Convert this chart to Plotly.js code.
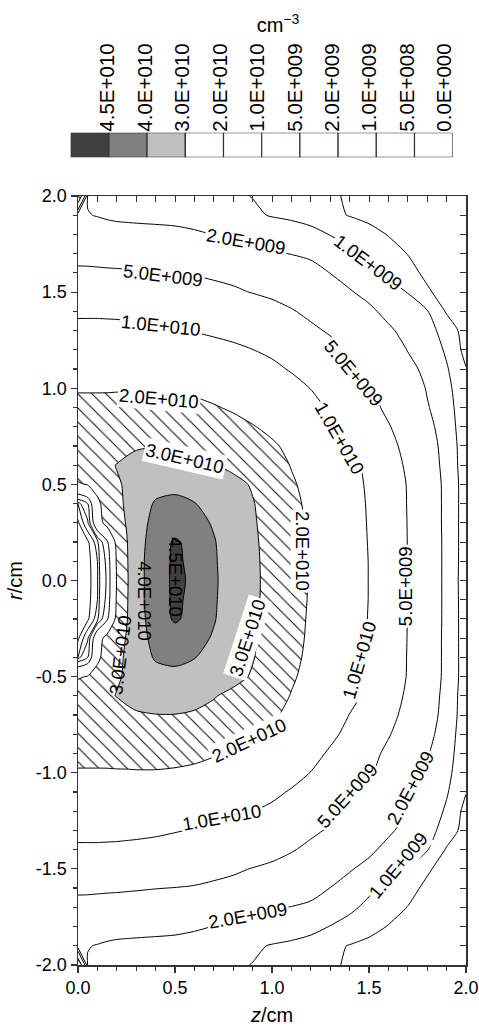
<!DOCTYPE html>
<html>
<head>
<meta charset="utf-8">
<script src="https://cdn.plot.ly/plotly-3.0.1.min.js"></script>
<style>
html,body{margin:0;padding:0;background:#fff;}
#chart{width:479px;height:1026px;}
</style>
</head>
<body>
<div id="chart"></div>
<script>
// ---------------- data ----------------
// axial positions z (cm) of the grid columns
const zGrid = [0, 0.05, 0.1, 0.15, 0.2, 0.25, 0.3, 0.4, 0.5, 0.6, 0.7, 0.8, 0.9, 1.0, 1.1, 1.2, 1.3, 1.4, 1.5, 1.6, 1.7, 1.8, 1.9, 2.0];
// radial positions r (cm) of the rows, upper half (field is mirror-symmetric about r = 0)
const rUpper = [0, 0.1, 0.2, 0.3, 0.4, 0.5, 0.6, 0.7, 0.8, 0.9, 1.0, 1.1, 1.2, 1.3, 1.4, 1.5, 1.6, 1.7, 1.8, 1.9, 2.0];
// density, in units of 1e9 cm^-3, one array per r row
const n_r00 = [0.2, 0.3, 0.9, 5.5, 20.5, 28.5, 37.5, 43.5, 45.6, 44.5, 41, 36.5, 32, 27, 22.5, 19.5, 15.5, 12.3, 9.9, 7.5, 4.95, 3.2, 1.6, 0.6];
const n_r01 = [0.2, 0.3, 1.0, 6, 21, 28.8, 37.5, 43.5, 45.5, 44.3, 40.8, 36.3, 31.8, 27, 22.5, 19.4, 15.4, 12.2, 9.9, 7.5, 4.95, 3.2, 1.6, 0.62];
const n_r02 = [0.25, 0.4, 1.3, 9, 22.5, 29.3, 37, 43.3, 45.4, 44, 40.5, 36, 31.5, 26.8, 22.3, 19.2, 15.3, 12.1, 9.8, 7.4, 4.93, 3.2, 1.6, 0.63];
const n_r03 = [0.4, 1.5, 16, 23, 26, 30.5, 37, 42, 43.5, 42.5, 39.3, 35.5, 31, 26.5, 22, 19, 15.2, 12, 9.7, 7.3, 4.9, 3.1, 1.6, 0.63];
const n_r04 = [1.0, 5, 18, 24, 28, 31, 34.5, 41, 41.5, 40.2, 37.5, 34.5, 30.5, 26, 21.7, 18.5, 15, 11.8, 9.6, 7.2, 4.85, 3.1, 1.6, 0.63];
const n_r05 = [19, 20.5, 23.5, 26, 29.5, 30.5, 33, 36.5, 38.3, 38, 35.5, 32.5, 29.2, 25.3, 20.8, 18, 14.7, 11.6, 9.4, 7.1, 4.8, 3.05, 1.6, 0.63];
const n_r06 = [26, 27, 28, 29, 30.2, 31.3, 32.3, 33.5, 34, 33, 30.5, 28, 25.5, 22.8, 19.7, 16.8, 13.8, 11.2, 9.0, 6.8, 4.4, 2.9, 1.5, 0.62];
const n_r07 = [25, 25.5, 26, 26.5, 27.5, 28.5, 29.3, 29.8, 29.8, 29, 27.8, 26, 23.8, 21, 18.3, 15.7, 12.8, 9.9, 7.9, 6.0, 4.0, 2.7, 1.45, 0.62];
const n_r08 = [24, 24, 24.3, 24.6, 25, 25.5, 26, 26.5, 26.5, 25.8, 24.5, 22.5, 20.4, 18.3, 16, 13.7, 11, 8.8, 7, 5.2, 3.6, 2.4, 1.35, 0.6];
const n_r09 = [22.5, 22.5, 22.5, 22.6, 22.8, 23, 23.2, 23.2, 22.8, 22, 20.6, 19, 17.3, 15.5, 13.6, 11.5, 9.4, 7.5, 5.9, 4.4, 3.2, 2.1, 1.25, 0.6];
const n_r10 = [19.2, 19.2, 19.2, 19.2, 19.3, 19.3, 19.4, 19.4, 19, 18.3, 17.3, 16, 14.7, 13.2, 11.6, 9.9, 8.2, 6.7, 5.3, 4.0, 2.9, 1.9, 1.15, 0.6];
const n_r11 = [15.5, 15.5, 15.5, 15.5, 15.5, 15.5, 15.5, 15.4, 15, 14.5, 13.8, 13, 12.1, 11, 9.6, 8.2, 7, 5.7, 4.5, 3.4, 2.4, 1.65, 1.05, 0.52];
const n_r12 = [13.2, 13.2, 13.2, 13.2, 13.2, 13.15, 13.1, 13, 12.7, 12.2, 11.6, 10.9, 10.05, 9.1, 8.0, 6.9, 5.8, 4.8, 3.8, 2.8, 1.95, 1.35, 0.92, 0.35];
const n_r13 = [11.2, 11.2, 11.2, 11.15, 11.1, 11, 10.9, 10.6, 10.2, 9.8, 9.2, 8.6, 7.9, 7.2, 6.4, 5.5, 4.7, 3.9, 3.0, 2.2, 1.6, 1.2, 0.78, 0.3];
const n_r14 = [9.3, 9.3, 9.3, 9.25, 9.2, 9.1, 9.0, 8.8, 8.5, 8.1, 7.7, 7.2, 6.6, 6.0, 5.2, 4.4, 3.6, 2.9, 2.25, 1.65, 1.25, 1.03, 0.45, 0.28];
const n_r15 = [7.3, 7.3, 7.3, 7.25, 7.2, 7.1, 7.0, 6.8, 6.5, 6.2, 5.8, 5.4, 4.9, 4.4, 3.9, 3.3, 2.7, 2.1, 1.65, 1.3, 0.98, 0.55, 0.35, 0.25];
const n_r16 = [5.4, 5.4, 5.35, 5.32, 5.3, 5.25, 5.2, 5.06, 4.95, 4.8, 4.5, 4.2, 3.9, 3.5, 3.1, 2.6, 1.98, 1.55, 1.1, 0.85, 0.62, 0.42, 0.3, 0.22];
const n_r17 = [4.3, 4.25, 4.2, 4.1, 4.0, 3.9, 3.8, 3.6, 3.4, 3.2, 2.95, 2.7, 2.45, 2.2, 1.95, 1.7, 1.4, 1.1, 0.88, 0.68, 0.49, 0.38, 0.28, 0.2];
const n_r18 = [3.0, 2.8, 2.6, 2.5, 2.45, 2.42, 2.4, 2.35, 2.3, 2.15, 1.98, 1.85, 1.7, 1.55, 1.4, 1.2, 0.98, 0.83, 0.65, 0.48, 0.38, 0.3, 0.24, 0.18];
const n_r19 = [2.1, 2.05, 1.95, 1.85, 1.78, 1.75, 1.72, 1.68, 1.62, 1.55, 1.48, 1.35, 1.12, 0.95, 0.85, 0.75, 0.6, 0.48, 0.38, 0.3, 0.25, 0.2, 0.17, 0.14];
const n_r20 = [30, 1.9, 1.85, 1.8, 1.75, 1.7, 1.65, 1.55, 1.45, 1.35, 1.25, 1.1, 0.98, 0.9, 0.8, 0.7, 0.56, 0.45, 0.36, 0.3, 0.25, 0.2, 0.16, 0.13];
const densityUnit = 1e9; // cm^-3

// contour levels drawn as lines (cm^-3)
const lineLevels = [5e8, 1e9, 2e9, 5e9, 1e10, 2e10, 3e10, 4e10, 4.5e10];

// legend (top key)
const legendLabels = ['4.5E+010', '4.0E+010', '3.0E+010', '2.0E+010', '1.0E+010', '5.0E+009', '2.0E+009', '1.0E+009', '5.0E+008', '0.0E+000'];
const legendFill = ['#404040', '#808080', '#c0c0c0', '#ffffff', '#ffffff', '#ffffff', '#ffffff', '#ffffff', '#ffffff', '#ffffff'];
const legendHatch = ['', '', '', '\\', '', '', '', '', '', ''];

// axis ticks
const zTickVals = [0, 0.5, 1.0, 1.5, 2.0];
const zTickText = ['0.0', '0.5', '1.0', '1.5', '2.0'];
const rTickVals = [-2, -1.5, -1, -0.5, 0, 0.5, 1, 1.5, 2];
const rTickText = ['-2.0', '-1.5', '-1.0', '-0.5', '0.0', '0.5', '1.0', '1.5', '2.0'];

// contour line labels
const labelText = ['2.0E+009', '1.0E+009', '5.0E+009', '5.0E+009', '1.0E+010', '1.0E+010', '2.0E+010', '3.0E+010', '2.0E+010', '3.0E+010', '2.0E+010', '1.0E+010', '5.0E+009', '2.0E+009', '2.0E+009', '1.0E+009', '5.0E+009', '1.0E+010', '4.5E+010', '4.0E+010', '3.0E+010'];
const labelZ = [0.866, 1.495, 0.438, 1.423, 0.428, 1.351, 0.418, 0.552, 1.16, 0.876, 0.881, 0.742, 1.387, 0.876, 1.716, 1.649, 1.686, 1.448, 0.505, 0.345, 0.216];
const labelR = [1.761, 1.652, 1.584, 1.079, 1.329, 0.741, 0.949, 0.637, 0.153, -0.299, -0.83, -1.235, -1.116, -1.745, -1.079, -1.48, -0.029, -0.414, 0.018, -0.107, -0.388];
const labelAngle = [10, 37, 7, 50, 6, 60, 5, 13, 90, -72, -25, -10, -48, -10, -62, -50, -90, -74, 90, 90, -83];
const labelBoxed = [1, 1, 1, 1, 1, 1, 1, 1, 1, 1, 1, 1, 1, 1, 1, 1, 1, 1, 0, 0, 0];

// ---------------- build ----------------
const densityUpper = [n_r00, n_r01, n_r02, n_r03, n_r04, n_r05, n_r06, n_r07, n_r08, n_r09, n_r10,
  n_r11, n_r12, n_r13, n_r14, n_r15, n_r16, n_r17, n_r18, n_r19, n_r20];
const rFull = rUpper.slice(1).reverse().map(v => -v).concat(rUpper);
const zMat = densityUpper.slice(1).reverse().concat(densityUpper).map(row => row.map(v => v * densityUnit));

const zMin = zGrid[0], zMax = zGrid[zGrid.length - 1];
const rMin = rFull[0], rMax = rFull[rFull.length - 1];
const SM = 0.75;
const FONT = 'Liberation Sans, Arial, Helvetica, sans-serif';

const traces = [];
// hatch background (shows through where 2e10 <= n < 3e10)
traces.push({
  type: 'scatter', mode: 'lines', xaxis: 'x', yaxis: 'y',
  x: [zMin, zMax, zMax, zMin, zMin], y: [rMin, rMin, rMax, rMax, rMin],
  fill: 'toself', fillcolor: '#ffffff', line: {width: 0},
  fillpattern: {shape: '\\', fgcolor: '#111111', bgcolor: '#ffffff', size: 10, solidity: 0.11},
  hoverinfo: 'skip'
});
const base = {type: 'contour', x: zGrid, y: rFull, z: zMat, xaxis: 'x2', yaxis: 'y2', showscale: false, hoverinfo: 'skip'};
// white mask where n < 2e10
traces.push(Object.assign({}, base, {
  contours: {type: 'constraint', operation: '>', value: lineLevels[5], showlines: false},
  fillcolor: '#ffffff', line: {width: 0, smoothing: SM}
}));
// grey fills
[[lineLevels[6], '#c0c0c0'], [lineLevels[7], '#808080'], [lineLevels[8], '#404040']].forEach(([lv, col]) => {
  traces.push(Object.assign({}, base, {
    contours: {type: 'constraint', operation: '<', value: lv, showlines: false},
    fillcolor: col, line: {width: 0, smoothing: SM}
  }));
});
// contour lines
lineLevels.forEach(lv => {
  traces.push(Object.assign({}, base, {
    contours: {type: 'constraint', operation: '=', value: lv, showlines: true},
    line: {color: '#000000', width: 1, smoothing: SM}
  }));
});
// key boxes
traces.push({
  type: 'bar', xaxis: 'x3', yaxis: 'y3',
  x: legendLabels.map((_, i) => i), y: legendLabels.map(() => 1), width: 1,
  marker: {color: legendFill, line: {color: '#333333', width: 1.2},
    pattern: {shape: legendHatch, fgcolor: '#000000', bgcolor: '#ffffff', size: 9, solidity: 0.12}},
  hoverinfo: 'skip'
});

const annotations = labelText.map((t, i) => ({
  x: labelZ[i], y: labelR[i], xref: 'x', yref: 'y', text: t, textangle: labelAngle[i],
  showarrow: false, xanchor: 'center', yanchor: 'middle',
  font: {family: FONT, size: 18.5, color: '#000'},
  bgcolor: labelBoxed[i] ? '#ffffff' : 'rgba(0,0,0,0)', borderpad: 1
}));

const W = 479, H = 1026;
const mL = 20, mR = 5, mT = 10, mB = 61;
const pw = W - mL - mR, ph = H - mT - mB;
const px2dx = p => (p - mL) / pw;
const py2dy = p => (H - mB - p) / ph;

const axisCommon = {showgrid: false, zeroline: false, showline: true, linecolor: '#333', linewidth: 1.5, fixedrange: true};

const layout = {
  width: W, height: H,
  margin: {l: mL, r: mR, t: mT, b: mB},
  paper_bgcolor: '#fff', plot_bgcolor: '#fff',
  showlegend: false,
  font: {family: FONT, size: 18, color: '#000'},
  title: {text: 'cm<sup>−3</sup>', xref: 'container', yref: 'container', x: 278 / W, y: 1 - 25 / H,
    xanchor: 'center', yanchor: 'middle', font: {family: FONT, size: 20, color: '#000'}},
  xaxis: Object.assign({}, axisCommon, {
    domain: [px2dx(78), px2dx(466)], range: [zMin, zMax], anchor: 'y',
    tickmode: 'array', tickvals: zTickVals, ticktext: zTickText,
    ticks: 'outside', ticklen: 6, tickwidth: 1.2, tickcolor: '#333',
    minor: {tickmode: 'linear', tick0: 0, dtick: 0.1, ticks: 'outside', ticklen: 4, tickcolor: '#333'},
    tickfont: {family: FONT, size: 18, color: '#000'},
    title: {text: '<span style="font-style:italic;font-size:20px">z</span>/cm', font: {family: FONT, size: 20, color: '#000'}, standoff: 14}
  }),
  yaxis: Object.assign({}, axisCommon, {
    domain: [py2dy(965), py2dy(196)], range: [rMin, rMax], anchor: 'x',
    tickmode: 'array', tickvals: rTickVals, ticktext: rTickText,
    ticks: 'outside', ticklen: 6, tickwidth: 1.2, tickcolor: '#333',
    minor: {tickmode: 'linear', tick0: 0, dtick: 0.1, ticks: 'outside', ticklen: 4, tickcolor: '#333'},
    tickfont: {family: FONT, size: 18, color: '#000'},
    title: {text: '<span style="font-style:italic;font-size:20px">r</span>/cm', font: {family: FONT, size: 20, color: '#000'}, standoff: 8}
  }),
  xaxis2: Object.assign({}, axisCommon, {
    overlaying: 'x', anchor: 'y2', side: 'top', range: [zMin, zMax],
    tickmode: 'linear', tick0: 0, dtick: 0.1, ticks: 'inside', ticklen: 6, tickcolor: '#333', showticklabels: false
  }),
  yaxis2: Object.assign({}, axisCommon, {
    overlaying: 'y', anchor: 'x2', side: 'right', range: [rMin, rMax],
    tickmode: 'linear', tick0: 0, dtick: 0.1, ticks: 'inside', ticklen: 6, tickcolor: '#333', showticklabels: false
  }),
  xaxis3: {
    domain: [px2dx(70.7), px2dx(452.7)], anchor: 'y3', side: 'top', range: [-0.5, legendLabels.length - 0.5],
    showgrid: false, zeroline: false, showline: false, ticks: '', fixedrange: true,
    tickmode: 'array', tickvals: legendLabels.map((_, i) => 0.47 + i * 0.98), ticktext: legendLabels,
    tickangle: -90, tickfont: {family: FONT, size: 20.5, color: '#000'}, ticklabelstandoff: 0
  },
  yaxis3: {domain: [py2dy(157.3), py2dy(132.7)], anchor: 'x3', range: [0, 1], visible: false, fixedrange: true},
  annotations: annotations
};

Plotly.newPlot('chart', traces, layout, {displayModeBar: false, staticPlot: true});
</script>
</body>
</html>
